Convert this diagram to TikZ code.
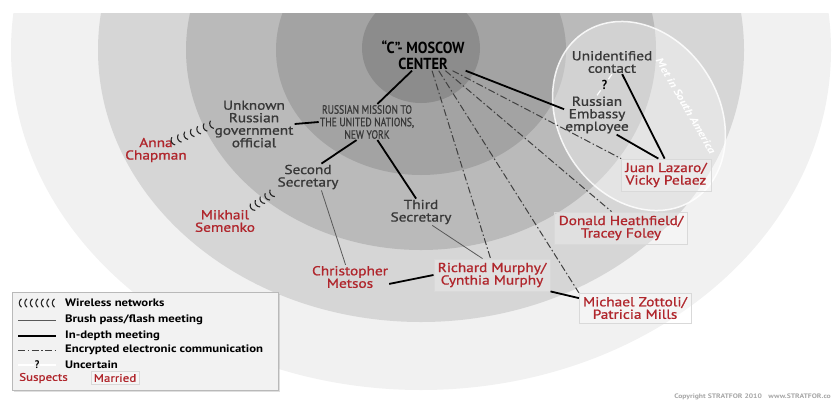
\documentclass[tikz,border=0pt]{standalone}
\usepackage{fontspec}
\setmainfont{PT Sans}
\newfontfamily\namefont[FakeStretch=1.18,FakeBold=1]{PT Sans}
\newfontfamily\capsfont[FakeStretch=0.8,FakeBold=0.8]{PT Sans}
\newfontfamily\headfont[FakeStretch=0.9]{PT Sans}
\newfontfamily\keyfont[FakeStretch=1.18]{PT Sans}
\usetikzlibrary{calc,shapes.geometric,decorations.markings,shadows}

\definecolor{ringE}{gray}{0.945}
\definecolor{ringD}{gray}{0.84}
\definecolor{ringC}{gray}{0.73}
\definecolor{ringB}{gray}{0.64}
\definecolor{ringA}{gray}{0.55}
\definecolor{spyred}{HTML}{B0262C}
\definecolor{labelgray}{HTML}{383838}

\tikzset{
  contactnode/.style={align=center, text=labelgray, inner sep=1pt,
    font=\namefont\fontsize{13}{12.5}\selectfont},
  suspect/.style={align=center, text=spyred, inner sep=1pt,
    font=\namefont\fontsize{13}{12.5}\selectfont},
  couple/.style={suspect, draw=white!70!gray, fill=white, fill opacity=0.25,
    text opacity=1, inner sep=4pt},
  meeting/.style={line width=1.8pt, black},
  brush/.style={line width=0.8pt, black!65},
  encrypted/.style={line width=1pt, black!75,
    dash pattern=on 7pt off 2.5pt on 1.5pt off 2.5pt},
  uncertain/.style={line width=1.2pt, white},
  wireless/.style={decoration={markings,
    mark=between positions 0.04 and 0.96 step #1 with
    {\draw[draw=black!85, line width=1.1pt] (2pt,4.2pt) .. controls (-1pt,2pt) and (-1pt,-2pt) .. (2pt,-4.2pt);}},
    postaction={decorate}},
  wireless/.default=6pt,
  keytext/.style={anchor=west, inner sep=0pt, font=\keyfont\bfseries\fontsize{10.8}{10.8}\selectfont},
}

\begin{document}
\begin{tikzpicture}[x=1pt,y=-1pt]
  %%%%% START %%%%%
  \useasboundingbox (0,0) rectangle (832,402);

  % rings
  \begin{scope}
    \clip (0,13) rectangle (832,402);
    \fill[ringE] (421,50) ellipse [x radius=410, y radius=340];
    \fill[ringD] (421,50) ellipse [x radius=323, y radius=272];
    \fill[ringC] (421,50) ellipse [x radius=235, y radius=200];
    \fill[ringB] (421,50) ellipse [x radius=145, y radius=125];
    \fill[ringA] (421,48) ellipse [x radius=59, y radius=55];
  \end{scope}

  % South America oval
  \node[ellipse, minimum width=200, minimum height=160, rotate=-57, draw=white,
    line width=1.5pt, fill=white, fill opacity=0.35, draw opacity=0.85] (oval) at (639,116) {};
  \node[rotate=-60, text=white, inner sep=0pt, font=\keyfont\bfseries\itshape\fontsize{10.5}{10.5}\selectfont] (metsa) at (686,106) {Met in South America};

  % people
  \node[font=\headfont\bfseries\fontsize{16}{16}\selectfont, align=center, inner sep=1pt] (moscow) at (423,55) {“C”- MOSCOW\\CENTER};
  \node[align=center, text=labelgray, inner sep=1pt, font=\capsfont\fontsize{12}{12.5}\selectfont] (mission) at (367,122) {RUSSIAN MISSION TO\\THE UNITED NATIONS,\\NEW YORK};
  \node[contactnode] (official) at (254,124) {Unknown\\Russian\\government\\official};
  \node[contactnode] (second) at (308,177) {Second\\Secretary};
  \node[contactnode] (third) at (421,212) {Third\\Secretary};
  \node[contactnode] (contact) at (612,62) {Unidentified\\contact};
  \node[contactnode] (embassy) at (597,115) {Russian\\Embassy\\employee};
  \node[font=\headfont\bfseries\fontsize{13}{13}\selectfont, inner sep=1pt] (q) at ($(contact.south)!0.5!(embassy.north)$) {?};

  \node[suspect] (anna) at (156,150) {Anna\\Chapman};
  \node[suspect] (semenko) at (225,221) {Mikhail\\Semenko};
  \node[suspect] (metsos) at (350,277) {Christopher\\Metsos};
  \node[couple] (murphy) at (492,275) {Richard Murphy/\\Cynthia Murphy};
  \node[couple] (zottoli) at (635,308) {Michael Zottoli/\\Patricia Mills};
  \node[couple] (heathfield) at (621,228) {Donald Heathfield/\\Tracey Foley};
  \node[couple] (lazaro) at (666,175) {Juan Lazaro/\\Vicky Pelaez};

  % in-depth meetings
  \draw[meeting] (moscow.235) -- (mission.60);
  \draw[meeting] (moscow.south east) -- (embassy.170);
  \draw[meeting] (official.east) -- (mission.west);
  \draw[meeting] (mission.240) -- (second.45);
  \draw[meeting] (mission.300) -- (third.110);
  \draw[meeting] (metsos.-10) -- (murphy.west);
  \draw[meeting] (murphy.south east) -- (zottoli.170);
  \draw[meeting] (embassy.-45) -- (lazaro.115);
  \draw[meeting] (contact.-50) -- (lazaro.95);

  % brush passes
  \draw[brush] (second.-45) -- (metsos.110);
  \draw[brush] (third.-50) -- (murphy.120);

  % encrypted links
  \draw[encrypted] (moscow.-60) -- (murphy.95);
  \draw[encrypted] (moscow.-45) -- (zottoli.north west);
  \draw[encrypted] (moscow.-35) -- (heathfield.120);
  \draw[encrypted] (moscow.-28) -- (lazaro.north west);

  % uncertain
  \draw[uncertain] (contact.south) -- (q);
  \draw[uncertain] (q) -- (embassy.north);

  % radio
  \path[wireless=7pt] (anna.north east) ++(-18,6) -- (official.west);
  \path[wireless=6pt] (semenko.north east) ++(-6,0) -- (second.south west);

  % key
  \node[draw=gray!55, fill=gray!10, minimum width=266, minimum height=98, inner sep=0pt,
    drop shadow={opacity=0.25, shadow xshift=1.5pt, shadow yshift=-1.5pt}] (legend) at (145,341) {};
  \coordinate (w1) at (18,303);  \coordinate (w2) at (56,303);
  \coordinate (b1) at (18,320);  \coordinate (b2) at (56,320);
  \coordinate (m1) at (18,336);  \coordinate (m2) at (56,336);
  \coordinate (e1) at (18,350);  \coordinate (e2) at (56,350);
  \coordinate (u1) at (18,365);  \coordinate (u2) at (56,365);
  \path[wireless=5.5pt] (w1) -- (w2);
  \draw[brush] (b1) -- (b2);
  \draw[meeting] (m1) -- (m2);
  \draw[encrypted] (e1) -- (e2);
  \node[font=\headfont\bfseries\fontsize{11}{11}\selectfont, inner sep=1pt] (uq) at ($(u1)!0.5!(u2)$) {?};
  \draw[uncertain] (u1) -- (uq);
  \draw[uncertain] (uq) -- (u2);
  \node[keytext] (kw) at (65,303) {Wireless networks};
  \node[keytext] (kb) at (65,320) {Brush pass/flash meeting};
  \node[keytext] (km) at (65,336) {In-depth meeting};
  \node[keytext] (ke) at (65,350) {Encrypted electronic communication};
  \node[keytext] (ku) at (65,365) {Uncertain};
  \node[suspect, anchor=west, inner sep=0pt, font=\namefont\fontsize{11}{11}\selectfont] (ks) at (19,378) {Suspects};
  \node[couple, inner sep=2.5pt, font=\namefont\fontsize{11}{11}\selectfont] (kmar) at (115,378) {Married};

  \node[anchor=east, text=gray!70, inner sep=0pt, font=\keyfont\bfseries\fontsize{6.5}{6.5}\selectfont] (copy) at (831,397) {Copyright STRATFOR 2010\quad www.STRATFOR.co};
  %%%%% END %%%%%
\end{tikzpicture}
\end{document}
